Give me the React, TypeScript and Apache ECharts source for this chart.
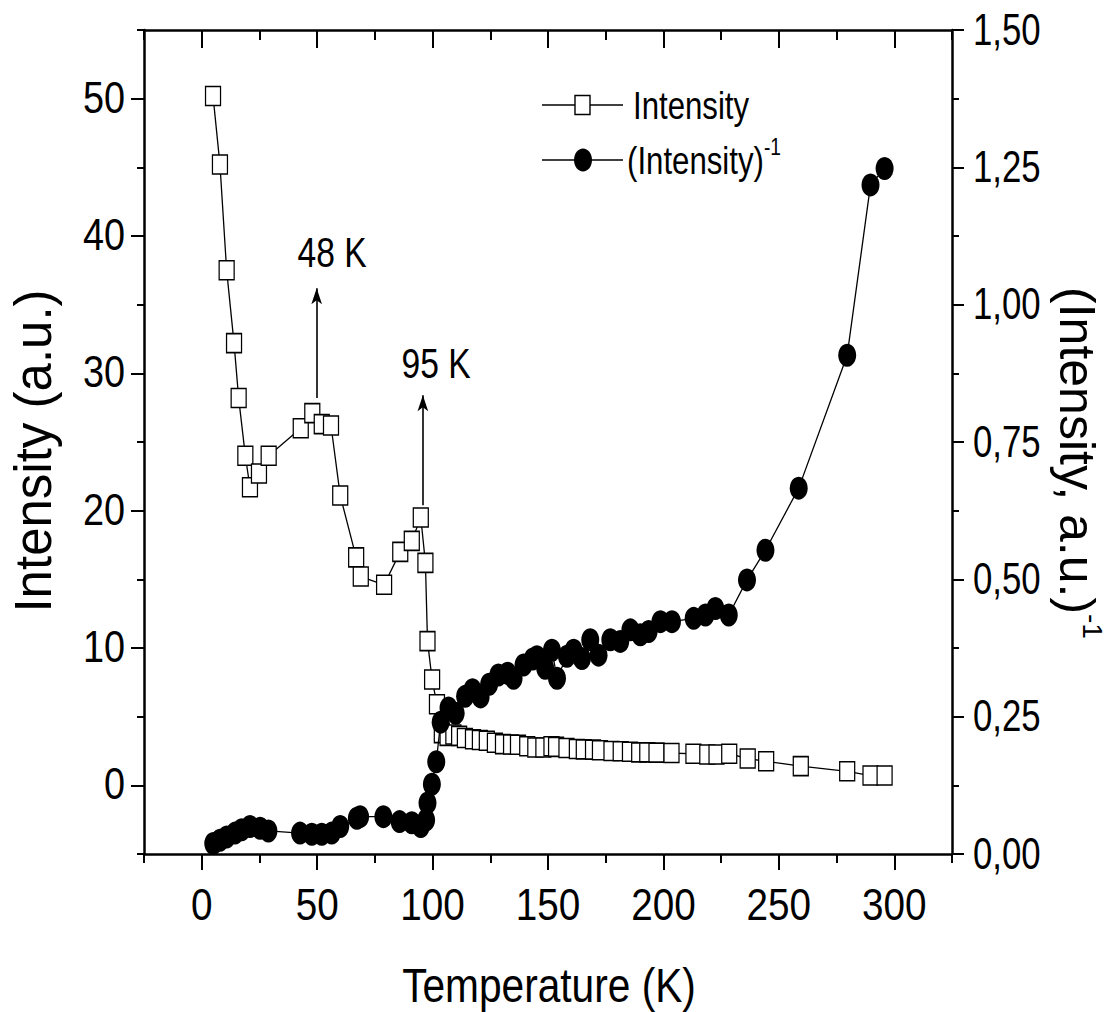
import { useEffect, useRef } from 'react';
import * as echarts from 'echarts';

// ---- data ----
const intensityT = [
  4.9, 7.9, 10.8, 14.0, 16.0, 18.9, 20.9, 24.8, 29.0, 42.9, 47.9, 52.0, 56.0, 60.0, 66.9, 68.9, 79.0, 86.0,
  91.0, 94.9, 96.9, 97.8, 99.8, 101.9, 104.0, 106.5, 109.0, 111.5, 114.0, 117.5, 120.5, 123.5, 127.0, 130.5,
  134.0, 137.0, 141.0, 144.5, 148.0, 151.5, 153.5, 158.0, 162.5, 165.5, 169.5, 172.5, 177.5, 181.5, 185.5,
  189.5, 193.0, 197.0, 203.5, 213.0, 219.0, 223.0, 228.5, 236.5, 244.5, 259.5, 279.6, 289.7, 295.8,
];
const intensityVal = [
  50.2, 45.2, 37.5, 32.2, 28.2, 24.0, 21.7, 22.7, 24.0, 26.0, 27.1, 26.3, 26.2, 21.1, 16.6, 15.2, 14.6, 17.0,
  17.8, 19.5, 16.2, 10.5, 7.7, 5.9, 3.8, 3.6, 3.7, 3.6, 3.45, 3.35, 3.3, 3.25, 3.1, 3.0,
  2.97, 2.95, 2.85, 2.75, 2.75, 2.85, 2.8, 2.72, 2.65, 2.62, 2.6, 2.55, 2.5, 2.48, 2.45,
  2.4, 2.4, 2.38, 2.35, 2.3, 2.25, 2.25, 2.3, 1.95, 1.75, 1.4, 1.02, 0.71, 0.71,
];
const inverseT = [
  5.0, 7.9, 10.8, 14.4, 17.3, 20.9, 25.3, 28.9, 42.6, 47.7, 52.0, 56.3, 60.0, 67.2, 68.6, 78.7, 85.7, 91.0,
  94.9, 97.2, 97.8, 99.7, 101.6, 103.5, 106.9, 110.0, 114.1, 117.3, 120.8, 124.5, 128.5, 132.5, 135.1, 139.4,
  143.4, 145.2, 148.8, 151.7, 153.9, 158.2, 161.1, 164.7, 168.3, 171.9, 177.0, 181.3, 185.7, 190.0, 193.6,
  198.7, 203.7, 213.1, 218.2, 222.5, 228.3, 236.2, 244.2, 258.6, 279.6, 289.7, 295.8,
];
const inverseVal = [
  0.019, 0.025, 0.031, 0.038, 0.044, 0.05, 0.047, 0.042, 0.038, 0.036, 0.036, 0.038, 0.05, 0.065, 0.068, 0.068,
  0.059, 0.057, 0.05, 0.062, 0.093, 0.127, 0.168, 0.24, 0.266, 0.256, 0.287, 0.299, 0.286, 0.309, 0.326, 0.329,
  0.32, 0.344, 0.355, 0.359, 0.338, 0.371, 0.32, 0.36, 0.371, 0.356, 0.39, 0.362, 0.39, 0.387, 0.408, 0.399,
  0.405, 0.423, 0.423, 0.429, 0.435, 0.447, 0.435, 0.499, 0.553, 0.666, 0.908, 1.218, 1.248,
];
const xMajorTicks = [0, 50, 100, 150, 200, 250, 300];
const yLeftMajorTicks = [0, 10, 20, 30, 40, 50];
const yRightTicks = [0, 0.25, 0.5, 0.75, 1.0, 1.25, 1.5];

// annotation arrows and their labels (data coordinates)
const annotations = [
  { x: 49.8, y0: 28.2, y1: 36.2, lx: 56.5, ly: 38.8, text: '48 K' },
  { x: 95.8, y0: 20.4, y1: 28.4, lx: 101.5, ly: 30.7, text: '95 K' },
];

const FONT = '"Liberation Sans", Arial, sans-serif';
const NARROW = 0.8; // horizontal squeeze of the upright texts
const TICK_SQUEEZE = 0.86;

export default function App() {
  const ref = useRef<HTMLDivElement>(null);

  useEffect(() => {
    if (!ref.current) return;
    const chart = echarts.init(ref.current, null, { renderer: 'svg' });
    const axisLineStyle = { color: '#000', width: 2.5 };
    const tickStyle = { color: '#000', width: 2 };

    const option: any = {
      animation: false,
      backgroundColor: '#fff',
      grid: { left: 144, right: 163, top: 30, bottom: 158, containLabel: false },
      xAxis: [
        {
          type: 'value', min: -25, max: 325, interval: 25, position: 'bottom',
          axisLine: { show: true, onZero: false, lineStyle: axisLineStyle },
          axisTick: { show: true, length: 9, lineStyle: tickStyle },
          axisLabel: { show: false }, splitLine: { show: false },
        },
        {
          type: 'value', min: -25, max: 325, interval: 25, position: 'bottom',
          axisLine: { show: false, onZero: false },
          axisTick: { show: true, length: 16, lineStyle: tickStyle, customValues: xMajorTicks },
          axisLabel: { show: false }, splitLine: { show: false },
        },
        {
          type: 'value', min: -25, max: 325, interval: 25, position: 'top',
          axisLine: { show: true, onZero: false, lineStyle: axisLineStyle },
          axisTick: { show: true, inside: true, length: 10, lineStyle: tickStyle },
          axisLabel: { show: false }, splitLine: { show: false },
        },
        {
          type: 'value', min: -25, max: 325, interval: 25, position: 'top',
          axisLine: { show: false, onZero: false },
          axisTick: { show: true, inside: true, length: 18, lineStyle: tickStyle, customValues: xMajorTicks },
          axisLabel: { show: false }, splitLine: { show: false },
        },
      ],
      yAxis: [
        {
          type: 'value', min: -5, max: 55, interval: 5, position: 'left',
          axisLine: { show: true, onZero: false, lineStyle: axisLineStyle },
          axisTick: { show: true, length: 13, lineStyle: tickStyle, customValues: yLeftMajorTicks },
          axisLabel: { show: false }, splitLine: { show: false },
        },
        {
          type: 'value', min: -5, max: 55, interval: 5, position: 'left',
          axisLine: { show: false, onZero: false },
          axisTick: { show: true, length: 7, lineStyle: tickStyle },
          axisLabel: { show: false }, splitLine: { show: false },
        },
        {
          type: 'value', min: 0, max: 1.5, interval: 0.25, position: 'right',
          axisLine: { show: true, onZero: false, lineStyle: axisLineStyle },
          axisTick: { show: true, length: 12, lineStyle: tickStyle },
          minorTick: { show: true, splitNumber: 2, length: 7, lineStyle: tickStyle },
          axisLabel: { show: false },
          splitLine: { show: false },
        },
      ],
      series: [
        {
          name: 'Intensity', type: 'line', xAxisIndex: 0, yAxisIndex: 0,
          data: intensityT.map((t, i) => [t, intensityVal[i]]),
          symbol: 'rect', symbolSize: [15, 19], showAllSymbol: true,
          itemStyle: { color: '#fff', borderColor: '#000', borderWidth: 1.4 },
          lineStyle: { color: '#000', width: 1.3 }, z: 2,
          markLine: {
            silent: true, symbol: ['none', 'arrow'], symbolSize: [8, 16],
            lineStyle: { color: '#000', width: 1.6, type: 'solid' },
            label: { show: false },
            data: annotations.map((a) => [{ coord: [a.x, a.y0] }, { coord: [a.x, a.y1] }]),
          },
        },
        {
          name: '(Intensity)-1', type: 'line', xAxisIndex: 0, yAxisIndex: 2,
          data: inverseT.map((t, i) => [t, inverseVal[i]]),
          symbol: 'circle', symbolSize: [18, 23], showAllSymbol: true,
          itemStyle: { color: '#000' },
          lineStyle: { color: '#000', width: 1.3 }, z: 3,
        },
      ],
    };
    chart.setOption(option);

    // texts placed through the chart's own scales
    const txt = (x: number, y: number, text: string, size: number, align: string, squeeze: number) => ({
      type: 'text', x, y, scaleX: squeeze, z: 100,
      style: { text, fontSize: size, fontFamily: FONT, fill: '#000', align, verticalAlign: 'middle' },
    });
    const graphics: any[] = [];
    xMajorTicks.forEach((v) => {
      const px = chart.convertToPixel({ xAxisIndex: 0 }, v) as number;
      graphics.push(txt(px, 904, String(v), 45, 'center', TICK_SQUEEZE));
    });
    yLeftMajorTicks.forEach((v) => {
      const py = chart.convertToPixel({ yAxisIndex: 0 }, v) as number;
      graphics.push(txt(125, py - 1, String(v), 44, 'right', TICK_SQUEEZE));
    });
    yRightTicks.forEach((v) => {
      const py = chart.convertToPixel({ yAxisIndex: 2 }, v) as number;
      graphics.push(txt(973, py - 1, v.toFixed(2).replace('.', ','), 44, 'left', TICK_SQUEEZE * 0.92));
    });
    annotations.forEach((a) => {
      const p = chart.convertToPixel({ xAxisIndex: 0, yAxisIndex: 0 }, [a.lx, a.ly]) as number[];
      graphics.push(txt(p[0], p[1], a.text, 42, 'center', NARROW));
    });
    // legend
    graphics.push(
      { type: 'line', shape: { x1: 542, y1: 105, x2: 623, y2: 105 }, style: { stroke: '#000', lineWidth: 1.3 } },
      { type: 'rect', shape: { x: 575, y: 95.5, width: 15, height: 19 }, style: { fill: '#fff', stroke: '#000', lineWidth: 1.4 } },
      txt(633, 105, 'Intensity', 39, 'left', NARROW),
      { type: 'line', shape: { x1: 542, y1: 160, x2: 623, y2: 160 }, style: { stroke: '#000', lineWidth: 1.3 } },
      { type: 'ellipse', shape: { cx: 583, cy: 160, rx: 9, ry: 11.5 }, style: { fill: '#000' } },
      {
        type: 'text', x: 627, y: 160, scaleX: NARROW,
        style: {
          text: '{a|(Intensity)}{s|-1}', fill: '#000', verticalAlign: 'middle',
          rich: {
            a: { fontSize: 39, fontFamily: FONT, fill: '#000' },
            s: { fontSize: 24, fontFamily: FONT, fill: '#000', padding: [0, 0, 26, 0] },
          },
        },
      },
      // axis titles
      txt(549, 985, 'Temperature (K)', 49, 'center', 0.83),
      {
        type: 'text', x: 33, y: 451, rotation: Math.PI / 2,
        style: { text: 'Intensity (a.u.)', fontSize: 51, fontFamily: FONT, fill: '#000', align: 'center', verticalAlign: 'middle' },
      },
      {
        type: 'text', x: 1077, y: 463, rotation: -Math.PI / 2,
        style: {
          text: '{a|(Intensity, a.u.)}{s|-1}', fill: '#000', align: 'center', verticalAlign: 'middle',
          rich: {
            a: { fontSize: 50, fontFamily: FONT, fill: '#000' },
            s: { fontSize: 28, fontFamily: FONT, fill: '#000', padding: [0, 0, 30, 0] },
          },
        },
      },
    );
    chart.setOption({ graphic: graphics });
    return () => chart.dispose();
  }, []);

  return (
    <div
      ref={ref}
      style={{ position: 'fixed', left: 0, top: 0, width: 1115, height: 1012, background: '#fff' }}
    />
  );
}
